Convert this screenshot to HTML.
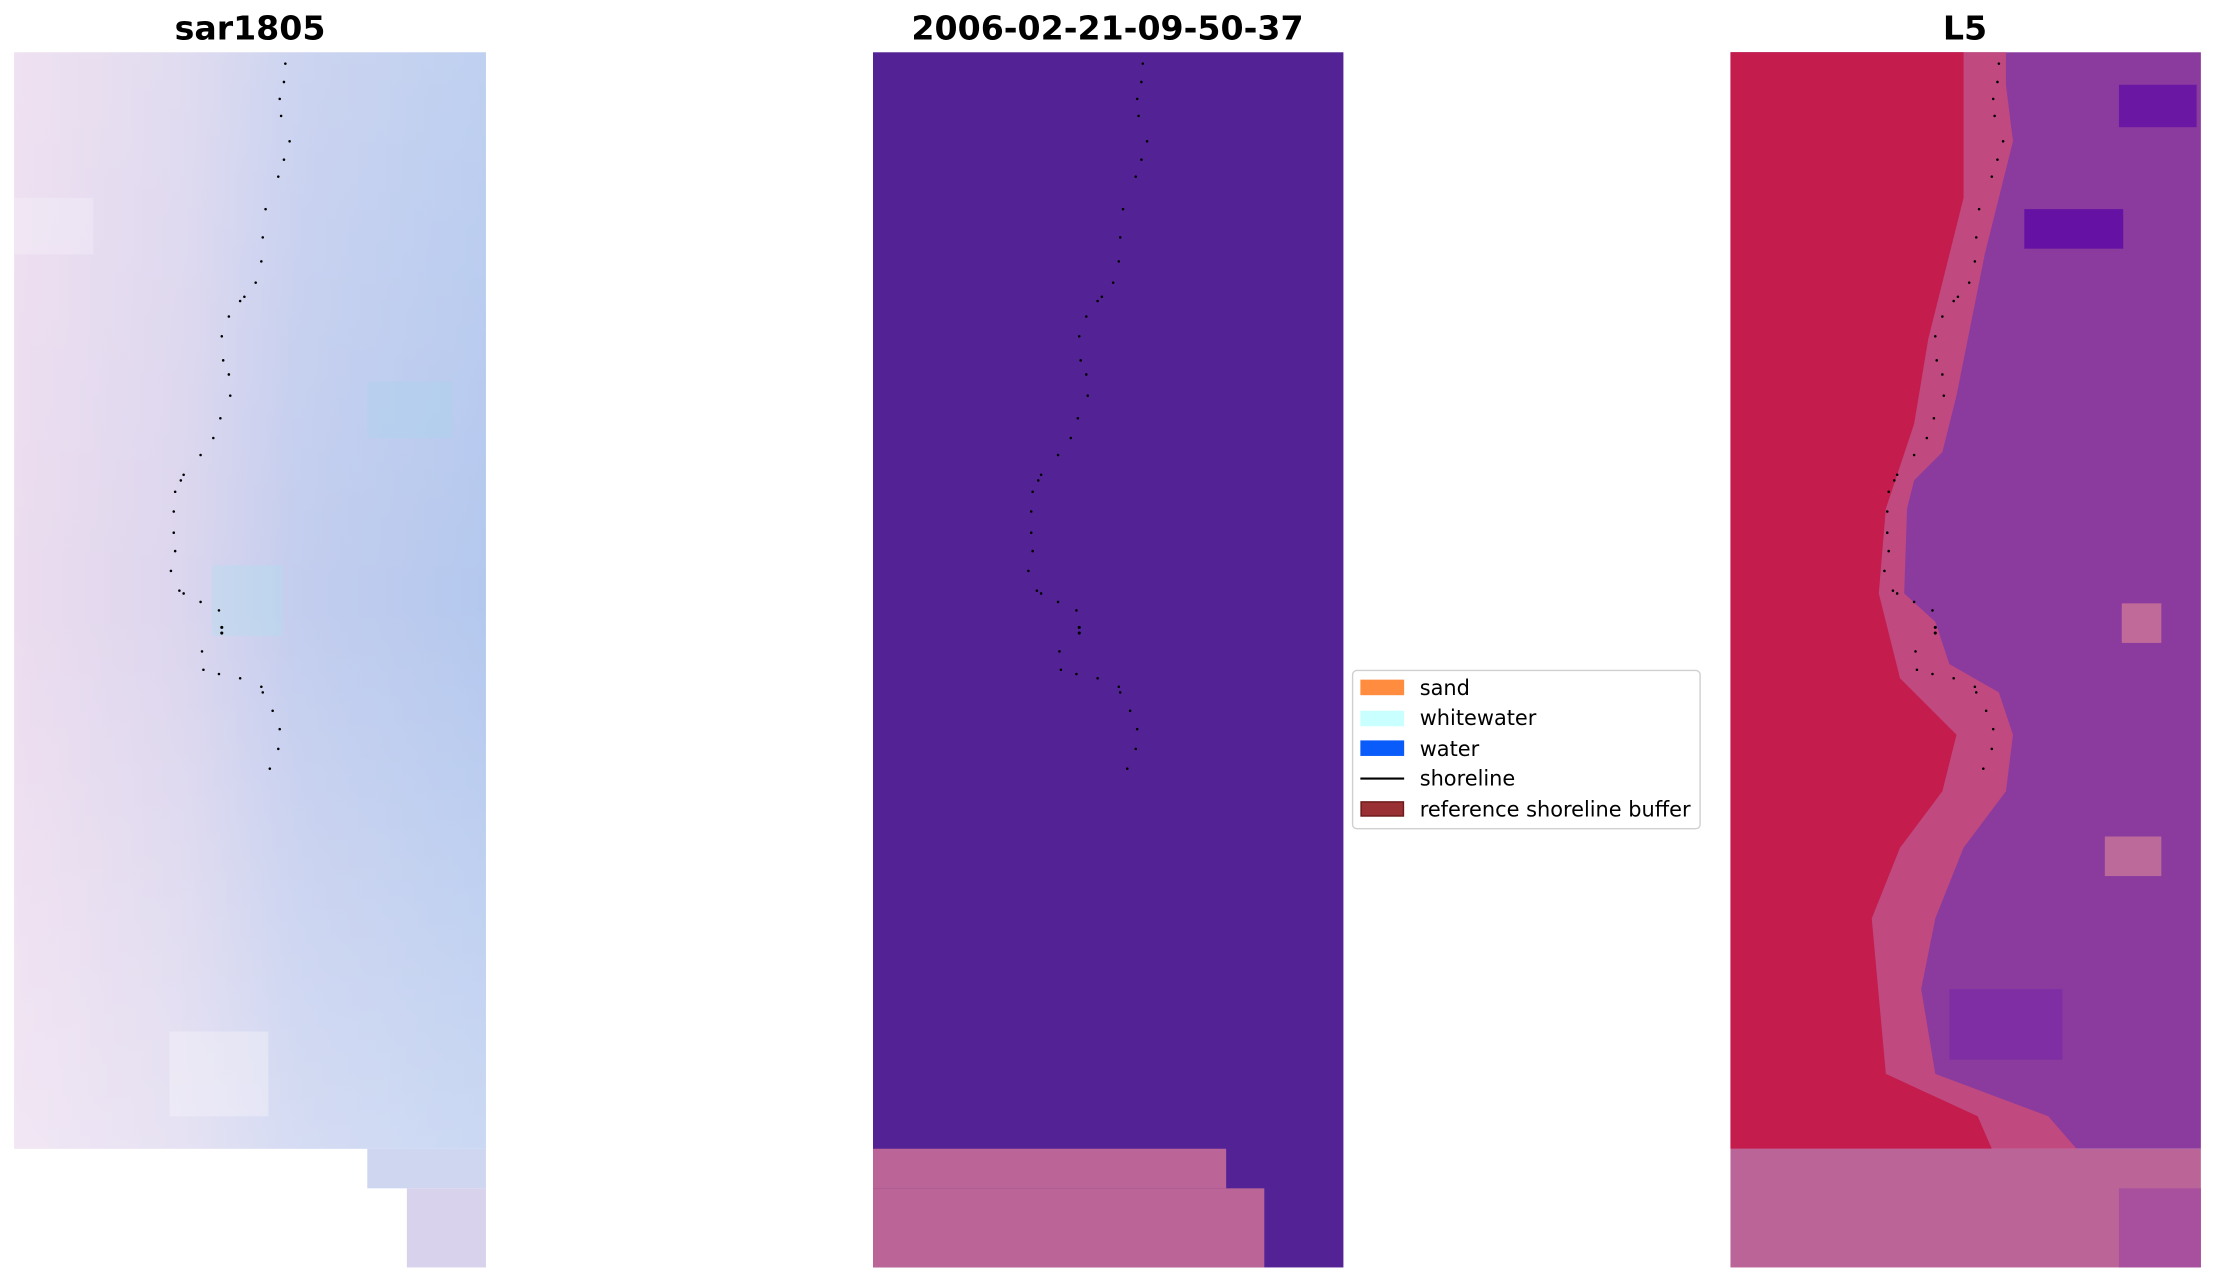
<!DOCTYPE html>
<html><head><meta charset="utf-8"><style>
html,body{margin:0;padding:0;background:#fff;}
svg{display:block;}
text{font-family:"DejaVu Sans","Liberation Sans",sans-serif;}
</style></head><body>
<svg width="2215" height="1283" viewBox="0 0 1568 908" preserveAspectRatio="none" xmlns="http://www.w3.org/2000/svg">
<defs>
<linearGradient id="lg" x1="0" x2="1" y1="0" y2="0">
<stop offset="0" stop-color="#ecdcef"/><stop offset="0.35" stop-color="#dcd6ee"/><stop offset="0.6" stop-color="#c3cdee"/><stop offset="1" stop-color="#b4c8ee"/>
</linearGradient>
<linearGradient id="lg2" x1="0" x2="0" y1="0" y2="1">
<stop offset="0" stop-color="#fff" stop-opacity="0.15"/><stop offset="0.5" stop-color="#fff" stop-opacity="0"/><stop offset="1" stop-color="#fff" stop-opacity="0.3"/>
</linearGradient>
</defs>
<text x="177" y="28" font-size="23.5" font-weight="bold" text-anchor="middle">sar1805</text>
<text x="784" y="28" font-size="23.5" font-weight="bold" text-anchor="middle">2006-02-21-09-50-37</text>
<text x="1391" y="28" font-size="23.5" font-weight="bold" text-anchor="middle">L5</text>

<rect x="10" y="37" width="334" height="776" fill="url(#lg)"/>
<rect x="10" y="37" width="334" height="776" fill="url(#lg2)"/>
<rect x="260" y="813" width="84" height="28" fill="#cfd6f0"/>
<rect x="288" y="841" width="56" height="56" fill="#d9d2ec"/>
<rect x="10" y="140" width="56" height="40" fill="#f6f0fa" opacity="0.4"/>
<rect x="120" y="730" width="70" height="60" fill="#f8f6fb" opacity="0.4"/>
<rect x="260" y="270" width="60" height="40" fill="#a8d4ee" opacity="0.35"/>
<rect x="150" y="400" width="50" height="50" fill="#b0e0ee" opacity="0.35"/>

<rect x="618" y="37" width="333" height="860" fill="#532295"/>
<rect x="618" y="813" width="250" height="28" fill="#bb6497"/>
<rect x="618" y="841" width="277" height="56" fill="#bb6497"/>

<rect x="1225" y="37" width="333" height="776" fill="#8b3a9e"/>
<polygon fill="#c0497f" points="1225,37 1420,37 1420,60 1425,100 1415,140 1405,180 1395,230 1385,280 1375,320 1355,340 1350,360 1348,420 1370,440 1380,470 1415,490 1425,520 1420,560 1390,600 1370,650 1360,700 1370,760 1450,790 1470,813 1225,813"/>
<polygon fill="#c41c4c" points="1225,37 1390,37 1390,140 1375,200 1365,240 1355,300 1335,360 1330,420 1345,480 1385,520 1375,560 1345,600 1325,650 1335,760 1400,790 1410,813 1225,813"/>
<rect x="1433" y="148" width="70" height="28" fill="#6512a4"/>
<rect x="1500" y="60" width="55" height="30" fill="#6a18a4"/>
<rect x="1502" y="427" width="28" height="28" fill="#c06a9a"/>
<rect x="1490" y="592" width="40" height="28" fill="#bb6a9a"/>
<rect x="1380" y="700" width="80" height="50" fill="#7a2aa6" opacity="0.7"/>
<rect x="1225" y="813" width="333" height="84" fill="#bb6497"/>
<rect x="1500" y="841" width="58" height="56" fill="#a8509e"/>

<g id="sl" fill="#000">
<circle cx="202" cy="45" r="0.9"/><circle cx="201" cy="58" r="0.9"/><circle cx="198" cy="70" r="0.9"/><circle cx="199" cy="82" r="0.9"/><circle cx="205" cy="100" r="0.9"/><circle cx="201" cy="113" r="0.9"/><circle cx="197" cy="125" r="0.9"/><circle cx="188" cy="148" r="0.9"/><circle cx="186" cy="168" r="0.9"/><circle cx="185" cy="185" r="0.9"/><circle cx="181" cy="200" r="0.9"/><circle cx="173" cy="210" r="0.9"/><circle cx="170" cy="213" r="0.9"/><circle cx="162" cy="224" r="0.9"/><circle cx="157" cy="238" r="0.9"/><circle cx="158" cy="255" r="0.9"/><circle cx="162" cy="265" r="0.9"/><circle cx="163" cy="280" r="0.9"/><circle cx="156" cy="296" r="0.9"/><circle cx="151" cy="310" r="0.9"/><circle cx="142" cy="322" r="0.9"/><circle cx="130" cy="336" r="0.9"/><circle cx="128" cy="340" r="0.9"/><circle cx="124" cy="348" r="0.9"/><circle cx="123" cy="362" r="0.9"/><circle cx="123" cy="377" r="0.9"/><circle cx="124" cy="390" r="0.9"/><circle cx="121" cy="404" r="0.9"/><circle cx="127" cy="418" r="0.9"/><circle cx="130" cy="420" r="0.9"/><circle cx="142" cy="426" r="0.9"/><circle cx="155" cy="432" r="0.9"/><circle cx="157" cy="444" r="1.1"/><circle cx="157" cy="448" r="1.1"/><circle cx="143" cy="461" r="0.9"/><circle cx="144" cy="474" r="0.9"/><circle cx="155" cy="477" r="0.9"/><circle cx="170" cy="480" r="0.9"/><circle cx="185" cy="486" r="0.9"/><circle cx="186" cy="490" r="0.9"/><circle cx="193" cy="503" r="0.9"/><circle cx="198" cy="516" r="0.9"/><circle cx="197" cy="530" r="0.9"/><circle cx="191" cy="544" r="0.9"/>
</g>
<use href="#sl" x="607" y="0"/>
<use href="#sl" x="1213" y="0"/>

<rect x="957.5" y="474.5" width="246" height="112" rx="3" fill="#fff" stroke="#d0d0d0" stroke-width="1"/>
<rect x="963" y="481" width="31" height="11" fill="#ff8c3f"/>
<rect x="963" y="503" width="31" height="11" fill="#c9ffff"/>
<rect x="963" y="524" width="31" height="11" fill="#0a5cfa"/>
<line x1="963" y1="551" x2="994" y2="551" stroke="#000" stroke-width="1.5"/>
<rect x="963.5" y="567.5" width="30" height="10" fill="#983034" stroke="#6a1a1a" stroke-width="1"/>
<g font-size="14.8" fill="#000">
<text x="1005" y="492">sand</text>
<text x="1005" y="513">whitewater</text>
<text x="1005" y="535">water</text>
<text x="1005" y="556">shoreline</text>
<text x="1005" y="578">reference shoreline buffer</text>
</g>
</svg>
</body></html>
